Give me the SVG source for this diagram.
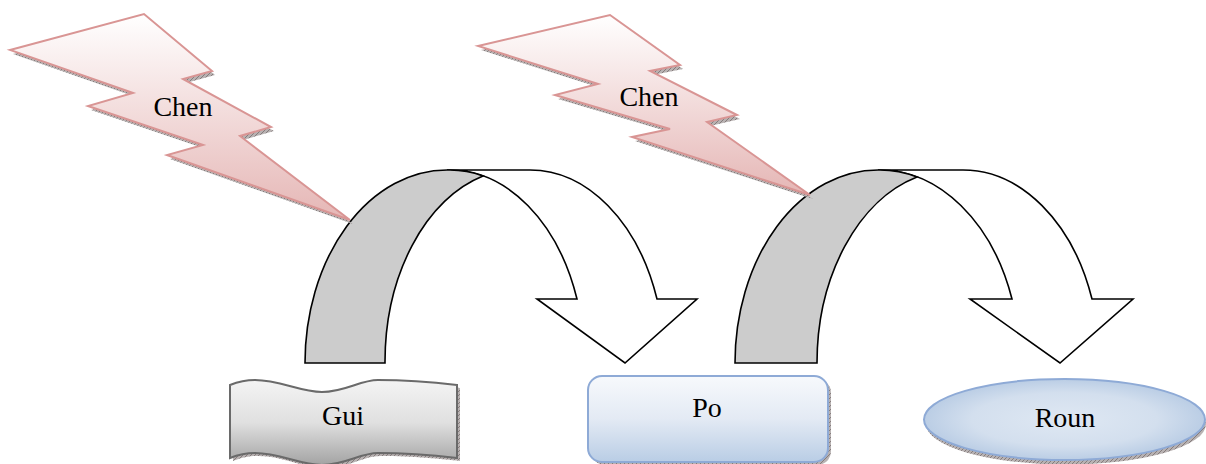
<svg xmlns="http://www.w3.org/2000/svg" width="1206" height="464" viewBox="0 0 1206 464">
<style>
.lbl{font-family:"Liberation Serif","Times New Roman",serif;font-size:28px;fill:#000;text-anchor:middle}
.bolt{fill:url(#gBolt);stroke:#d99594;stroke-width:2;stroke-linejoin:miter}
.shadowH{fill:url(#hatch);stroke:none}
.arrW{fill:#fff;stroke:#000;stroke-width:1.6;stroke-linejoin:miter}
.arrG{fill:#cccccc;stroke:#000;stroke-width:1.6}
</style>
<defs>
<pattern id="hatch" width="4" height="4" patternUnits="userSpaceOnUse">
<rect width="4" height="4" fill="#b8b2b2"/>
<path d="M0,4 L4,0" stroke="#6f6464" stroke-width="0.7"/>
</pattern>
<linearGradient id="gBolt" x1="0" y1="0" x2="0" y2="1">
<stop offset="0" stop-color="#ffffff"/>
<stop offset="1" stop-color="#e5b6b5"/>
</linearGradient>
<linearGradient id="gGui" x1="0" y1="0" x2="0" y2="1">
<stop offset="0" stop-color="#f4f4f4"/>
<stop offset="0.5" stop-color="#e0e0e0"/>
<stop offset="1" stop-color="#a3a3a3"/>
</linearGradient>
<linearGradient id="gPo" x1="0" y1="0" x2="0" y2="1">
<stop offset="0" stop-color="#f7f9fc"/>
<stop offset="0.5" stop-color="#e3eaf4"/>
<stop offset="1" stop-color="#b9cde5"/>
</linearGradient>
<radialGradient id="gRoun" cx="0.5" cy="0.5" r="0.55">
<stop offset="0" stop-color="#dfe8f3"/>
<stop offset="0.6" stop-color="#d3dfee"/>
<stop offset="1" stop-color="#b3c8e2"/>
</radialGradient>
</defs>

<g id="connectors">
<g id="arrow1">
<path class="arrW" d="M447,170 L530,170 A134.7,193 0 0 1 657,299 L697,299 L625,363 L537,299 L577,299 A134.7,193 0 0 0 450,170 Z"/>
<path class="arrG" d="M305,363 A142,193 0 0 1 447,170 L450,170 A134.7,193 0 0 1 483,176 A133.7,193 0 0 0 385,363 Z"/>
</g>
<g id="arrow2">
<path class="arrW" d="M878,170 L963,170 A137,193 0 0 1 1092,299 L1133,299 L1060,363 L970,299 L1012,299 A140,193 0 0 0 880,170 Z"/>
<path class="arrG" d="M735,363 A143,193 0 0 1 878,170 L880,170 A140,193 0 0 1 917,177 A136.4,193 0 0 0 817,363 Z"/>
</g>
</g>

<g id="bolt1">
<polygon class="shadowH" transform="translate(3,4)" points="10,50 144,14 212,71 183,79 271,127 240,136 350,220 167,155 203,145 88,106 133,93"/>
<polygon class="bolt" points="10,50 144,14 212,71 183,79 271,127 240,136 350,220 167,155 203,145 88,106 133,93"/>
<text class="lbl" x="183" y="116">Chen</text>
</g>

<g id="bolt2">
<polygon class="shadowH" transform="translate(3,4)" points="478,46 610,15 680,65 650,71 737,115 707,122 810,195 632,137 670,129 555,95 598,84"/>
<polygon class="bolt" points="478,46 610,15 680,65 650,71 737,115 707,122 810,195 632,137 670,129 555,95 598,84"/>
<text class="lbl" x="649" y="106">Chen</text>
</g>

<g id="gui">
<path class="shadowH" transform="translate(3,3)" d="M230,385 C240,381 247,380 255,380 C280,380 300,392 322,392 C345,392 360,380 378,380 C410,380 440,383 457,385 L457,458 C440,456 410,453 378,453 C360,453 345,465 322,465 C300,465 280,453 255,453 C247,453 240,454 230,458 Z"/>
<path d="M230,385 C240,381 247,380 255,380 C280,380 300,392 322,392 C345,392 360,380 378,380 C410,380 440,383 457,385 L457,458 C440,456 410,453 378,453 C360,453 345,465 322,465 C300,465 280,453 255,453 C247,453 240,454 230,458 Z" fill="url(#gGui)" stroke="#6a6a6a" stroke-width="2"/>
<text class="lbl" x="343" y="425">Gui</text>
</g>

<g id="po">
<rect class="shadowH" x="591" y="379" width="240" height="86" rx="14"/>
<rect x="588" y="376" width="240" height="86" rx="14" fill="url(#gPo)" stroke="#8eaad6" stroke-width="2"/>
<text class="lbl" x="707" y="417">Po</text>
</g>

<g id="roun">
<ellipse class="shadowH" cx="1066" cy="424" rx="140" ry="40.5"/>
<ellipse cx="1064.5" cy="419.5" rx="140.5" ry="40.5" fill="url(#gRoun)" stroke="#8eaad6" stroke-width="2"/>
<text class="lbl" x="1065" y="427">Roun</text>
</g>
</svg>
